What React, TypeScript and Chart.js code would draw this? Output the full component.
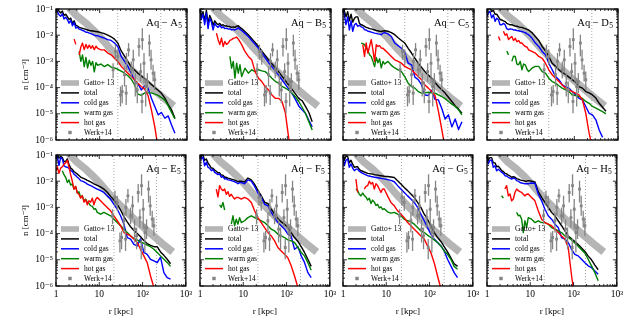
import React, { useEffect, useRef } from "react";
import { Chart, registerables } from "chart.js";

Chart.register(...registerables);

const _ = null;

// radius grid in kpc
const radiusKpc = [1.0, 1.07, 1.17, 1.28, 1.4, 1.53, 1.67, 1.83, 1.99, 2.18, 2.38, 2.6, 2.84, 3.11, 3.39, 3.71, 4.05, 4.43, 4.84, 5.29, 5.78, 6.31, 6.89, 7.53, 8.23, 8.99,
  10.7, 12.8, 15.3, 18.3, 21.8, 26.0, 31.1, 37.1, 44.3, 52.9, 63.1, 75.3, 89.9, 107, 128, 153, 183, 218, 260, 311, 371, 443, 529];

// log10 of number density [cm^-3] per panel and phase
const aTotal = [-0.95, -1.0, -1.08, -1.15, -1.08, -1.25, -1.2, -1.3, -1.4, -1.35, -1.55, -1.45, -1.62, -1.65, -1.7, -1.72, -1.74, -1.76, -1.78, -1.8, -1.82, -1.83, -1.84, -1.85, -1.86, -1.87,
  -1.9, -1.94, -2.0, -2.06, -2.15, -2.3, -2.6, -2.8, -3.0, -3.22, -3.33, -3.45, -3.56, -3.66, -3.76, -3.88, -4.0, -4.1, -4.22, -4.4, -4.65, -4.85, -5.17];
const aCold = [-1.03, -1.09, -1.22, -1.28, -1.18, -1.38, -1.31, -1.41, -1.54, -1.43, -1.64, -1.51, -1.73, -1.69, -1.77, -1.79, -1.82, -1.84, -1.89, -1.89, -1.92, -1.94, -1.97, -2.0, -2.02, -2.02,
  -2.07, -2.11, -2.17, -2.2, -2.3, -2.43, -2.81, -3.0, -3.19, -3.45, -3.73, -3.86, -4.09, -3.93, -4.02, -4.41, -4.72, -5.04, -4.95, -5.17, -5.08, -5.43, -5.74];
const aWarm = [_, _, _, _, _, _, _, _, _, _, _, _, _, _, -2.62, -3.0, -2.75, -3.2, -2.85, -3.25, -2.95, -3.15, -3.0, -3.4, -3.05, -3.15,
  -3.1, -3.2, -3.12, -3.22, -3.25, -3.3, -3.37, -3.45, -3.55, -3.68, -3.9, -4.25, -4.3, -4.2, -4.2, -4.2, -4.25, -4.3, -4.38, -4.48, -4.7, -4.95, -5.2];
const aHot = [_, _, _, _, _, _, _, _, _, _, _, -2.15, -2.35, _, -2.75, -2.45, -2.3, -2.55, -2.35, -2.5, -2.38, -2.5, -2.4, -2.55, -2.42, -2.5,
  -2.56, -2.56, -2.68, -2.75, -2.88, -3.0, -3.19, -3.32, -3.45, -3.58, -3.7, -3.83, -3.96, -4.06, -4.3, -4.85, -5.5, -6.3, _, _, _, _, _];

const bTotal = [-1.0, -1.3, -1.1, -1.45, -1.05, -1.55, -1.25, -1.4, -1.62, -1.45, -1.55, -1.6, -1.55, -1.63, -1.6, -1.65, -1.64, -1.67, -1.67, -1.7, -1.68, -1.7, -1.66, -1.64, -1.7, -1.75,
  -1.86, -1.98, -2.13, -2.28, -2.43, -2.6, -2.77, -2.94, -3.09, -3.24, -3.39, -3.56, -3.73, -3.9, -4.07, -4.24, -4.41, -4.5, -4.72, -4.95, -5.3, _, _];
const bCold = [-1.1, -1.4, -1.2, -1.6, -1.15, -1.75, -1.35, -1.5, -1.8, -1.55, -1.65, -1.7, -1.62, -1.72, -1.68, -1.75, -1.73, -1.77, -1.76, -1.8, -1.78, -1.8, -1.77, -1.72, -1.78, -1.82,
  -1.93, -2.05, -2.2, -2.35, -2.5, -2.68, -2.86, -3.04, -3.2, -3.36, -3.52, -3.7, -3.88, -4.05, -4.22, -4.45, -4.7, -4.85, -4.98, -5.25, -5.5, _, _];
const bWarm = [_, _, _, _, _, _, _, _, _, _, _, _, _, _, _, _, _, _, -2.81, -3.26, -3.0, -3.64, -3.07, -3.45, -3.13, -3.58,
  -3.26, -3.45, -3.32, -3.39, -3.32, -3.36, -3.39, -3.5, -3.64, -3.76, -3.83, -3.95, -4.02, -4.1, -4.21, -4.35, -4.53, -4.75, -4.98, -5.3, -5.62, _, _];
const bHot = [_, _, _, _, _, _, _, _, _, _, -1.92, -2.17, -2.36, -2.11, -2.43, -2.24, -2.35, -2.3, -2.2, -2.17, -2.12, -2.1, -2.07, -2.15, -2.25, -2.36,
  -2.62, -2.81, -2.94, -3.39, -3.64, -3.77, -3.96, -4.09, -4.28, -4.41, -4.41, -4.53, -4.95, -5.9, -6.6, _, _, _, _, _, _, _, _];

const cTotal = [-0.9, -1.05, -1.3, -1.1, -1.45, -1.2, -1.5, -1.35, -1.3, -1.3, -1.55, -1.6, -1.62, -1.66, -1.7, -1.72, -1.75, -1.76, -1.78, -1.8, -1.82, -1.83, -1.85, -1.86, -1.84, -1.83,
  -1.85, -1.9, -1.98, -2.1, -2.2, -2.3, -2.5, -2.68, -2.88, -3.07, -3.23, -3.39, -3.52, -3.64, -3.8, -3.96, -4.08, -4.21, -4.37, -4.53, -4.7, -4.82, -4.98];
const cCold = [-1.03, -1.2, -1.6, -1.3, -1.8, -1.45, -1.85, -1.6, -1.55, -1.66, -1.62, -1.68, -1.7, -1.79, -1.8, -1.85, -1.86, -1.88, -1.9, -1.92, -1.93, -1.95, -1.96, -1.98, -1.92, -1.9,
  -1.95, -2.05, -2.3, -2.4, -2.5, -2.65, -3.07, -3.13, -3.6, -3.7, -3.9, -4.28, -4.3, -4.1, -4.45, -4.47, -4.8, -5.2, -5.04, -5.5, -5.2, -5.6, -5.3];
const cWarm = [_, _, _, _, _, _, _, _, _, _, _, -2.3, -2.32, -2.36, -2.5, -2.56, -2.75, -2.81, -3.0, -3.2, -2.85, -3.05, -2.9, -3.25, -3.0, -3.1,
  -3.0, -3.15, -3.25, -3.32, -3.39, -3.58, -3.83, -3.96, -4.02, -4.15, -4.21, -4.2, -4.18, -4.2, -4.21, -4.28, -4.34, -4.42, -4.53, -4.63, -4.72, -4.85, -5.04];
const cHot = [_, _, _, _, _, _, _, _, _, _, _, _, -2.36, -2.81, -2.3, -2.68, -2.43, -2.17, -2.56, -3.0, -2.36, -2.43, -2.4, -2.49, -2.5, -2.56,
  -2.68, -2.81, -2.94, -3.0, -3.07, -3.19, -3.26, -3.32, -3.45, -3.58, -3.7, -3.9, -4.02, -4.15, -4.3, -4.9, -5.6, -6.3, _, _, _, _, _];

const dTotal = [-1.0, -1.0, -0.95, -1.1, -1.05, -1.2, -1.2, -1.3, -1.4, -1.42, -1.45, -1.48, -1.55, -1.58, -1.6, -1.6, -1.63, -1.65, -1.66, -1.68, -1.7, -1.7, -1.73, -1.75, -1.78, -1.8,
  -1.9, -2.05, -2.2, -2.43, -2.6, -2.81, -3.07, -3.19, -3.32, -3.42, -3.5, -3.6, -3.7, -3.8, -3.96, -4.02, -4.15, -4.2, -4.28, -4.4, -4.6, -4.75, -4.9];
const dCold = [-1.28, -1.15, -1.09, -1.34, -1.22, -1.47, -1.35, -1.41, -1.6, -1.6, -1.55, -1.6, -1.75, -1.79, -1.76, -1.77, -1.8, -1.8, -1.82, -1.83, -1.85, -1.86, -1.88, -1.9, -1.95, -1.98,
  -2.11, -2.3, -2.43, -2.62, -2.75, -3.07, -3.32, -3.58, -3.7, -3.9, -3.96, -4.02, -4.15, -4.28, -4.41, -4.47, -4.72, -4.98, -5.04, -5.23, -5.62, -5.9, _];
const dWarm = [_, _, _, _, _, _, _, _, _, _, _, _, -2.6, -2.75, _, -3.0, -2.8, -2.81, -3.1, -3.13, -3.0, -3.32, -3.1, -3.13, -3.3, -3.39,
  -3.26, -3.19, -3.19, -3.39, -3.45, -3.64, -3.77, -3.83, -3.93, -4.02, -4.09, -4.15, -4.28, -4.3, -4.34, -4.42, -4.53, -4.6, -4.72, -4.78, -4.85, -4.92, -5.0];
const dHot = [_, _, _, _, _, _, _, -2.05, -2.2, _, -1.85, -2.0, -1.95, -2.17, -2.1, -2.05, -2.2, -2.12, -2.25, -2.2, -2.3, -2.3, -2.38, -2.43, -2.45, -2.56,
  -2.62, -2.68, -2.81, -2.88, -3.07, -3.32, -3.51, -3.64, -3.77, -3.9, -4.02, -4.09, -4.15, -4.21, -4.28, -4.47, -4.98, -5.74, -6.3, _, _, _, _];

const eTotal = [-1.1, -0.98, -1.12, -1.05, -1.1, -1.25, -1.25, -1.15, -1.35, -1.5, -1.55, -1.63, -1.68, -1.73, -1.78, -1.84, -1.87, -1.9, -1.93, -1.97, -2.0, -2.03, -2.06, -2.1, -2.13, -2.16,
  -2.22, -2.3, -2.42, -2.58, -2.72, -2.88, -3.1, -3.35, -3.55, -3.74, -3.88, -4.0, -4.12, -4.26, -4.38, -4.45, -4.5, -4.5, -4.7, -4.83, -4.98, -5.15, _];
const eCold = [-1.15, -1.03, -1.4, -1.1, -1.15, -1.41, -1.45, -1.47, -1.5, -1.6, -1.62, -1.73, -1.78, -1.85, -1.9, -1.98, -2.0, -2.03, -2.06, -2.11, -2.14, -2.17, -2.2, -2.24, -2.27, -2.3,
  -2.36, -2.43, -2.56, -2.68, -2.88, -3.07, -3.32, -3.64, -4.15, -4.21, -4.41, -4.47, -4.2, -4.72, -4.79, -4.98, -5.04, -5.11, -4.9, -5.49, -5.68, -5.74, _];
const eWarm = [_, _, _, _, -1.6, -1.75, -1.85, -2.05, -1.95, -2.15, -2.1, -2.3, -2.2, -2.45, -2.4, -2.62, -2.55, -2.75, -2.68, -2.81, -2.85, -2.94, -2.95, -3.07, -3.05, -3.19,
  -3.26, -3.19, -3.26, -3.32, -3.45, -3.58, -3.7, -3.83, -3.96, -4.09, -4.19, -4.24, -4.32, -4.37, -4.44, -4.5, -4.6, -4.72, -4.85, -4.98, -5.1, -5.25, _];
const eHot = [-1.6, -1.45, -1.7, -1.5, -1.45, -1.35, -1.3, -1.2, -1.45, -1.75, -2.0, -2.3, -2.2, -2.45, -2.5, -2.65, -2.55, -2.8, -2.7, -2.9, -2.75, -2.8, -2.65, -2.9, -2.7, -2.62,
  -2.75, -2.88, -3.0, -3.13, -3.32, -3.51, -3.7, -3.96, -4.02, -4.09, -4.21, -4.34, -4.6, -4.85, -5.11, -5.62, -6.06, _, _, _, _, _, _];

const fTotal = [-0.95, -1.05, -1.0, -1.2, -1.15, -1.3, -1.4, -1.5, -1.5, -1.58, -1.62, -1.68, -1.68, -1.77, -1.77, -1.85, -1.85, -1.88, -1.9, -1.92, -1.94, -1.96, -1.99, -2.02, -2.0, -2.0,
  -2.03, -1.88, -1.95, -2.12, -2.35, -2.55, -2.81, -2.85, -3.07, -3.26, -3.42, -3.55, -3.64, -3.77, -3.96, -4.15, -4.3, -4.5, -4.72, -4.98, -5.25, _, _];
const fCold = [-1.03, -1.15, -1.09, -1.41, -1.28, -1.47, -1.5, -1.6, -1.55, -1.66, -1.7, -1.75, -1.72, -1.85, -1.82, -1.92, -1.9, -1.95, -1.96, -1.98, -2.0, -2.02, -2.05, -2.1, -2.05, -2.05,
  -2.1, -1.95, -2.0, -2.2, -2.45, -2.62, -2.88, -2.94, -3.19, -3.39, -3.58, -3.7, -3.83, -4.02, -4.09, -4.6, -4.5, -4.85, -5.1, -5.49, -5.68, _, _];
const fWarm = [_, _, _, _, _, _, _, _, _, _, _, _, -2.9, -3.0, -2.81, -3.1, _, _, _, -3.64, -3.32, -3.7, -3.45, -3.64, -3.39, -3.58,
  -3.51, -3.39, -3.32, -3.39, -3.45, -3.51, -3.58, -3.7, -3.83, -3.9, -4.02, -4.09, -4.15, -4.24, -4.28, -4.34, -4.53, -4.72, -4.85, -5.11, -5.4, _, _];
const fHot = [_, _, _, _, _, _, _, _, _, _, -2.3, -2.6, -2.17, -2.3, -2.36, -2.3, -2.5, -2.4, -2.58, -2.5, -2.6, -2.68, -2.62, -2.62, -2.65, -2.68,
  -2.62, -2.68, -2.81, -3.13, -3.39, -3.58, -3.77, -3.96, -4.09, -4.28, -4.53, -4.66, -4.79, -4.92, -5.23, -5.62, -6.06, _, _, _, _, _, _];

const gTotal = [-1.0, -1.2, -1.05, -1.05, -1.3, -1.2, -1.35, -1.47, -1.45, -1.45, -1.55, -1.6, -1.62, -1.65, -1.67, -1.7, -1.71, -1.72, -1.73, -1.75, -1.76, -1.77, -1.78, -1.79, -1.8, -1.81,
  -1.82, -1.84, -1.86, -1.98, -2.11, -2.24, -2.36, -2.49, -2.62, -2.81, -3.0, -3.26, -3.45, -3.7, -3.95, -4.15, -4.3, -4.5, -4.7, -4.93, -5.15, -5.25, _];
const gCold = [-1.09, -1.41, -1.2, -1.15, -1.47, -1.34, -1.5, -1.6, -1.54, -1.54, -1.62, -1.66, -1.7, -1.73, -1.76, -1.79, -1.8, -1.82, -1.83, -1.85, -1.86, -1.87, -1.88, -1.89, -1.9, -1.91,
  -1.94, -1.97, -2.02, -2.17, -2.3, -2.43, -2.56, -2.68, -2.81, -3.0, -3.26, -3.51, -3.77, -4.02, -4.21, -4.34, -4.47, -4.66, -4.98, -5.23, -5.49, -5.68, _];
const gWarm = [_, _, _, _, _, _, _, _, -2.3, -2.36, -2.5, -2.56, -2.45, -2.55, -2.6, -2.72, -2.65, -2.85, -2.72, -2.8, -2.92, -2.88, -3.02, -2.98, -3.08, -3.05,
  -3.17, -3.22, -3.19, -3.26, -3.32, -3.45, -3.51, -3.55, -3.64, -3.77, -3.9, -3.96, -4.06, -4.15, -4.24, -4.34, -4.47, -4.66, -4.79, -4.98, -5.25, -5.36, _];
const gHot = [_, _, _, _, _, _, _, _, -1.92, -2.43, _, _, _, -2.3, -2.2, -2.17, -2.0, -2.11, -2.05, -2.3, -2.1, -2.17, -2.3, -2.43, -2.3, -2.3,
  -2.56, -2.81, -2.94, -3.13, -3.26, -3.39, -3.58, -3.7, -3.83, -3.96, -4.09, -4.21, -4.47, -4.72, -5.11, -5.62, -6.1, _, _, _, _, _, _];

const hTotal = [-1.05, -1.2, -1.1, -1.1, -1.3, -1.3, -1.45, -1.43, -1.5, -1.6, -1.63, -1.7, -1.72, -1.77, -1.8, -1.85, -1.83, -1.85, -1.9, -1.92, -1.95, -1.97, -1.98, -2.0, -2.0, -1.98,
  -2.0, -2.03, -2.4, -2.62, -2.81, -3.0, -3.19, -3.32, -3.51, -3.7, -3.9, -4.09, -4.2, -4.3, -4.42, -4.55, -4.68, -4.86, -5.0, -5.2, -5.38, _, _];
const hCold = [-1.15, -1.34, -1.2, -1.2, -1.47, -1.41, -1.6, -1.54, -1.6, -1.66, -1.7, -1.79, -1.8, -1.85, -1.88, -1.92, -1.88, -1.9, -1.98, -2.0, -2.05, -2.07, -2.08, -2.1, -2.1, -2.1,
  -2.07, -2.08, -2.49, -2.75, -3.07, -3.32, -3.45, -3.64, -3.77, -4.15, -4.21, -4.34, -4.6, -4.79, -4.85, -4.98, -5.11, -5.23, -5.3, -5.43, -5.55, _, _];
const hWarm = [_, _, _, _, _, _, _, _, _, -2.55, -2.65, _, _, _, _, _, _, _, -3.19, -3.32, -3.3, -3.45, -3.96, -3.51, -3.77, -3.39,
  -3.45, -3.58, -3.51, -3.58, -3.58, -3.64, -3.77, -3.83, -3.9, -3.96, -4.09, -4.15, -4.24, -4.36, -4.48, -4.62, -4.75, -4.98, -5.23, -5.49, -5.8, _, _];
const hHot = [_, _, _, _, _, _, _, _, _, _, _, -2.3, -2.17, -2.56, -2.49, -2.75, -2.68, -2.43, -2.3, -2.36, -2.4, -2.43, -2.5, -2.56, -2.5, -2.49,
  -2.62, -2.75, -3.13, -3.45, -3.58, -3.64, -3.7, -3.83, -3.96, -4.09, -4.21, -4.53, -5.6, -6.5, _, _, _, _, _, _, _, _, _];

// Gatto+13 model (log10 n)
const gattoR = [2, 3, 5, 7, 10, 15, 20, 30, 50, 70, 100, 150, 200, 300, 500];
const gattoLogN = [-0.96, -1.26, -1.56, -1.79, -2.05, -2.39, -2.62, -2.91, -3.28, -3.51, -3.73, -3.98, -4.16, -4.41, -4.7];

// Werk+14 observations (log10 n with lower / upper error)
const werkR = [20.3, 23.0, 26.0, 30.0, 32.8, 37.1, 41.2, 45.9, 52.9, 58.8, 65.4, 72.7, 79.4, 86.8, 94.8, 103.6, 113.2, 123.7, 137.5, 150.3, 167.2, 182.6, 93.2, 40.5];
const werkLogN = [-3.32, -2.62, -2.81, -4.28, -4.15, -3.51, -3.0, -2.56, -3.32, -2.94, -3.83, -4.09, -2.43, -3.39, -2.17, -3.07, -3.96, -3.77, -2.3, -2.94, -3.45, -3.7, -4.53, -4.21];
const werkLogLo = [-3.64, -2.94, -3.13, -4.72, -4.6, -3.96, -3.32, -2.81, -3.64, -3.45, -4.34, -4.6, -2.81, -3.77, -2.56, -3.83, -4.72, -4.21, -2.81, -3.32, -3.77, -4.09, -4.98, -4.66];
const werkLogHi = [-3.07, -2.36, -2.56, -3.96, -3.9, -3.19, -2.68, -2.3, -3.0, -2.56, -3.45, -3.77, -2.11, -3.07, -1.73, -2.68, -3.64, -3.45, -1.98, -2.56, -3.13, -3.39, -4.21, -3.9];

const panelNames = ["A", "B", "C", "D", "E", "F", "G", "H"];
const innerRadiusKpc = [26, 21, 26, 26, 21.8, 21.8, 22.5, 21];
const virialRadiusKpc = [251, 189, 251, 251, 210, 210, 218, 189];
const totalSeries = [aTotal, bTotal, cTotal, dTotal, eTotal, fTotal, gTotal, hTotal];
const coldSeries = [aCold, bCold, cCold, dCold, eCold, fCold, gCold, hCold];
const warmSeries = [aWarm, bWarm, cWarm, dWarm, eWarm, fWarm, gWarm, hWarm];
const hotSeries = [aHot, bHot, cHot, dHot, eHot, fHot, gHot, hHot];

const xTickValues = [1, 10, 100, 1000];
const xTickLabels = ["1", "10", "10²", "10³"];
const yTickValues = [1e-6, 1e-5, 1e-4, 1e-3, 1e-2, 1e-1];
const yTickLabels = ["10⁻⁶", "10⁻⁵", "10⁻⁴", "10⁻³", "10⁻²", "10⁻¹"];
const legendLabels = ["Gatto+ 13", "total", "cold gas", "warm gas", "hot gas", "Werk+14"];

const FONT = "'Liberation Serif', 'DejaVu Serif', serif";
const C_TOTAL = "#000000";
const C_COLD = "#0000ff";
const C_WARM = "#008000";
const C_HOT = "#ff0000";
const C_GATTO = "#b5b5b5";
const C_WERK = "#858585";
const C_VLINE = "#a8a8a8";

const COL_LEFT = [56, 200, 343, 487];
const ROW_TOP = [9, 155];
const PLOT = 131;
const PAD_L = 56;
const PAD_T = 9;
const PAD_R = 8;
const PAD_B = 31;
const CW = PAD_L + PLOT + PAD_R;
const CH = PAD_T + PLOT + PAD_B;

function toPoints(values: (number | null)[]) {
  return radiusKpc.map((r, i) => {
    const v = values[i];
    return { x: r, y: v === null || v === undefined ? null : Math.pow(10, v) };
  });
}

const decorPlugin = {
  id: "decor",
  afterDatasetsDraw(chart: any) {
    const { ctx, chartArea: a, scales } = chart;
    const xs = scales.x;
    const ys = scales.y;
    ctx.save();
    ctx.beginPath();
    ctx.rect(a.left, a.top, a.right - a.left, a.bottom - a.top);
    ctx.clip();
    ctx.strokeStyle = C_WERK;
    ctx.lineWidth = 1.3;
    werkR.forEach((r, i) => {
      const x = xs.getPixelForValue(r);
      ctx.beginPath();
      ctx.moveTo(x, ys.getPixelForValue(Math.pow(10, werkLogLo[i])));
      ctx.lineTo(x, ys.getPixelForValue(Math.pow(10, werkLogHi[i])));
      ctx.stroke();
    });
    ctx.restore();
  },
  afterDraw(chart: any, _args: any, opts: any) {
    const { ctx, chartArea: a, scales } = chart;
    const xs = scales.x;
    const ys = scales.y;
    ctx.save();
    // inward ticks
    ctx.strokeStyle = "#000";
    ctx.lineWidth = 0.8;
    ctx.beginPath();
    for (let e = 0; e <= 3; e++) {
      for (let m = 1; m <= 9; m++) {
        const v = m * Math.pow(10, e);
        if (v > 1000) break;
        const x = xs.getPixelForValue(v);
        const len = m === 1 ? 4 : 2;
        ctx.moveTo(x, a.bottom);
        ctx.lineTo(x, a.bottom - len);
        ctx.moveTo(x, a.top);
        ctx.lineTo(x, a.top + len);
      }
    }
    for (let e = -6; e <= -1; e++) {
      for (let m = 1; m <= 9; m++) {
        const v = m * Math.pow(10, e);
        if (v > 0.1000001) break;
        const y = ys.getPixelForValue(v);
        const len = m === 1 ? 4 : 2;
        ctx.moveTo(a.left, y);
        ctx.lineTo(a.left + len, y);
        ctx.moveTo(a.right, y);
        ctx.lineTo(a.right - len, y);
      }
    }
    ctx.stroke();
    // frame
    ctx.lineWidth = 1.3;
    ctx.strokeRect(a.left, a.top, a.right - a.left, a.bottom - a.top);

    // panel title
    ctx.fillStyle = "#000";
    ctx.textBaseline = "alphabetic";
    ctx.font = `7.5px ${FONT}`;
    const subW = ctx.measureText("5").width;
    const subX = a.right - 5 - subW;
    ctx.textAlign = "left";
    ctx.fillText("5", subX, a.top + 18.5);
    ctx.font = `10.5px ${FONT}`;
    ctx.textAlign = "right";
    ctx.fillText(`Aq − ${opts.name}`, subX - 0.3, a.top + 16.5);

    // legend
    const rowY = (i: number) => a.top + 74 + i * 9.9;
    const x0 = a.left + 5;
    const x1 = a.left + 23;
    ctx.fillStyle = C_GATTO;
    ctx.fillRect(x0, rowY(0) - 2.8, x1 - x0, 5.6);
    [C_TOTAL, C_COLD, C_WARM, C_HOT].forEach((c, k) => {
      ctx.strokeStyle = c;
      ctx.lineWidth = 1.5;
      ctx.beginPath();
      ctx.moveTo(x0, rowY(k + 1));
      ctx.lineTo(x1, rowY(k + 1));
      ctx.stroke();
    });
    ctx.fillStyle = C_WERK;
    ctx.fillRect(a.left + 14 - 1.7, rowY(5) - 1.7, 3.4, 3.4);
    ctx.fillStyle = "#000";
    ctx.font = `7.5px ${FONT}`;
    ctx.textAlign = "left";
    ctx.textBaseline = "middle";
    legendLabels.forEach((t, i) => ctx.fillText(t, a.left + 28, rowY(i) + 0.5));
    ctx.restore();
  },
};

function Panel({ index }: { index: number }) {
  const ref = useRef<HTMLCanvasElement | null>(null);
  const col = index % 4;
  const row = Math.floor(index / 4);
  useEffect(() => {
    const lineBase = { pointRadius: 0, tension: 0, clip: 0, spanGaps: false, borderJoinStyle: "round" };
    const chart = new Chart(ref.current as HTMLCanvasElement, {
      type: "line",
      data: {
        datasets: [
          {
            label: "Gatto+ 13",
            data: gattoR.map((r, i) => ({ x: r, y: Math.pow(10, gattoLogN[i]) })),
            borderColor: C_GATTO,
            borderWidth: 7.5,
            borderCapStyle: "butt",
            order: 10,
            ...lineBase,
          },
          {
            label: "0.1 Rvir",
            data: [{ x: innerRadiusKpc[index], y: 1e-6 }, { x: innerRadiusKpc[index], y: 1e-1 }],
            borderColor: C_VLINE,
            borderWidth: 1,
            borderDash: [1, 2],
            order: 9,
            ...lineBase,
          },
          {
            label: "Rvir",
            data: [{ x: virialRadiusKpc[index], y: 1e-6 }, { x: virialRadiusKpc[index], y: 1e-1 }],
            borderColor: C_VLINE,
            borderWidth: 1,
            borderDash: [1, 2],
            order: 9,
            ...lineBase,
          },
          { label: "total", data: toPoints(totalSeries[index]), borderColor: C_TOTAL, borderWidth: 1.4, order: 4, ...lineBase },
          { label: "cold gas", data: toPoints(coldSeries[index]), borderColor: C_COLD, borderWidth: 1.4, order: 3, ...lineBase },
          { label: "warm gas", data: toPoints(warmSeries[index]), borderColor: C_WARM, borderWidth: 1.4, order: 2, ...lineBase },
          { label: "hot gas", data: toPoints(hotSeries[index]), borderColor: C_HOT, borderWidth: 1.4, order: 1, ...lineBase },
          {
            label: "Werk+14",
            data: werkR.map((r, i) => ({ x: r, y: Math.pow(10, werkLogN[i]) })),
            showLine: false,
            pointStyle: "rect",
            pointRadius: 2,
            pointBackgroundColor: C_WERK,
            pointBorderWidth: 0,
            borderColor: C_WERK,
            order: 0,
            clip: 0,
          },
        ] as any,
      },
      options: {
        responsive: false,
        animation: false,
        devicePixelRatio: 1,
        events: [],
        layout: { padding: { top: PAD_T, right: PAD_R, left: 0, bottom: 0 }, autoPadding: false },
        plugins: {
          legend: { display: false },
          tooltip: { enabled: false },
          decor: { name: panelNames[index] },
        } as any,
        scales: {
          x: {
            type: "logarithmic",
            min: 1,
            max: 1000,
            afterBuildTicks: (s: any) => {
              s.ticks = xTickValues.map((v) => ({ value: v }));
            },
            afterFit: (s: any) => {
              s.height = PAD_B;
            },
            grid: { display: false, drawTicks: false },
            border: { display: false },
            ticks: {
              display: row === 1,
              autoSkip: false,
              maxRotation: 0,
              padding: 3,
              color: "#000",
              font: { family: FONT, size: 9.5 },
              callback: (v: any) => xTickLabels[xTickValues.indexOf(Number(v))] ?? "",
            },
            title: {
              display: row === 1,
              text: "r [kpc]",
              color: "#000",
              font: { family: FONT, size: 9 },
              padding: { top: 0, bottom: 0 },
            },
          },
          y: {
            type: "logarithmic",
            min: 1e-6,
            max: 1e-1,
            afterBuildTicks: (s: any) => {
              s.ticks = yTickValues.map((v) => ({ value: v }));
            },
            afterFit: (s: any) => {
              s.width = PAD_L;
            },
            grid: { display: false, drawTicks: false },
            border: { display: false },
            ticks: {
              display: col === 0,
              autoSkip: false,
              padding: 3,
              color: "#000",
              font: { family: FONT, size: 9.5 },
              callback: (v: any) => yTickLabels[yTickValues.indexOf(Number(v))] ?? "",
            },
            title: {
              display: col === 0,
              text: "n [cm⁻³]",
              color: "#000",
              font: { family: FONT, size: 9 },
              padding: { top: 20, bottom: 0 },
            },
          },
        },
      } as any,
      plugins: [decorPlugin as any],
    });
    return () => chart.destroy();
  }, [index, col, row]);

  return (
    <canvas
      ref={ref}
      width={CW}
      height={CH}
      style={{
        position: "absolute",
        left: COL_LEFT[col] - PAD_L,
        top: ROW_TOP[row] - PAD_T,
        width: CW,
        height: CH,
      }}
    />
  );
}

export default function App() {
  return (
    <div style={{ position: "absolute", left: 0, top: 0, width: 634, height: 317, background: "#fff", overflow: "hidden" }}>
      {panelNames.map((_n, i) => (
        <Panel key={i} index={i} />
      ))}
    </div>
  );
}
